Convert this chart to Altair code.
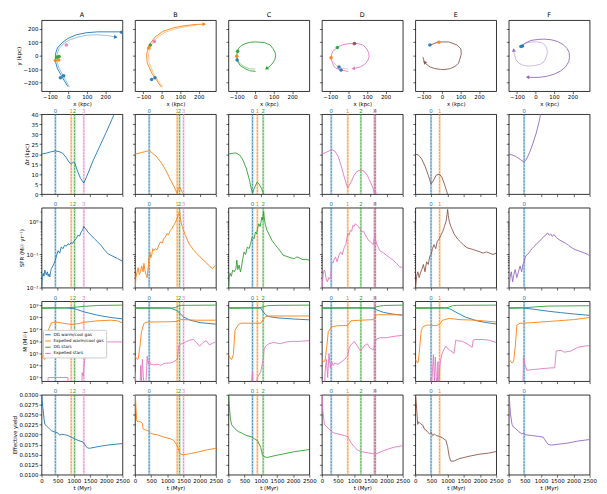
import math
import altair as alt
import pandas as pd

FONT = "DejaVu Sans"
GAL = ["A", "B", "C", "D", "E", "F"]
GCOL = {"A": "#1f77b4", "B": "#ff7f0e", "C": "#2ca02c", "D": "#e377c2", "E": "#8c564b", "F": "#9467bd"}
EVCOL = ["#1f77b4", "#ff7f0e", "#2ca02c", "#e377c2", "#8c564b"]

# event times (Myr) per galaxy
EVENTS = {"A": [428, 918, 1020, 1306], "B": [439, 1306, 1378, 1500], "C": [744, 895, 1075],
          "D": [290, 800, 1205, 1620, 1650], "E": [488, 752], "F": [476]}

# ---------------- row 1: trajectories (kpc) ----------------
TRAJ = {
    "A": [([-2, -20, -37, -59, -70, -70, -59, -34, -2, 43, 96, 159, 230, 293],
           [-230, -191, -149, -96, -43, 11, 57, 96, 128, 155, 170, 177, 177, 177]),
          ([7, -11, -29, -50, -61, -61, -50, -25, 7, 52, 105, 159, 212, 257],
           [-234, -191, -145, -96, -43, 11, 53, 91, 117, 138, 153, 155, 149, 138])],
    "B": [([-2, -29, -55, -79, -82, -68, -37, 7, 61, 123, 186, 230],
           [-234, -181, -128, -53, 11, 79, 138, 181, 206, 223, 232, 234]),
          ([5, -20, -45, -68, -72, -59, -30, 12, 64, 123, 186],
           [-236, -185, -130, -55, 10, 73, 128, 170, 195, 214, 226])],
    "C": [([2, -30, -55, -80, -91, -100, -98, -91, -75, -55, -25, 0, 30, 52, 80, 96, 107, 111, 106, 96, 80, 61],
           [-117, -112, -96, -75, -53, -10, 20, 53, 75, 89, 100, 102, 100, 96, 80, 53, 25, 0, -30, -53, -78, -96]),
          ([0, -30, -55, -78, -92], [-100, -97, -85, -65, -40])],
    "D": [([-2, -46, -70, -82, -96, -92, -86, -55, -30, -2, 30, 52, 80, 96, 108, 111, 104, 93, 78, 61, 25],
           [-117, -106, -92, -74, -21, 10, 32, 68, 82, 89, 91, 89, 78, 53, 25, -6, -35, -57, -72, -85, -96]),
          ([-2, -40, -68, -85], [-100, -92, -72, -40])],
    "E": [([-66, -18, 36, 80, 102, 104, 95, 89, 70, 45, 10, -9, -40, -62, -80, -95, -104],
           [79, 102, 102, 80, 50, 11, -30, -57, -80, -96, -104, -102, -96, -85, -70, -49, -11])],
    "F": [([-79, -60, -25, 10, 46, 85, 118, 150, 171, 182, 184, 180, 162, 135, 100, 65, 29, -10, -43],
           [68, 90, 113, 120, 123, 118, 106, 82, 53, 25, -11, -45, -85, -115, -138, -152, -160, -162, -160]),
          ([-79, -60, -43, -15, 11, 35, 55, 62, 64, 58, 46, 25, -7, -40, -70, -90, -105, -114, -118],
           [68, 85, 96, 102, 102, 95, 74, 50, 21, -12, -43, -65, -74, -78, -70, -55, -32, 11, 43])],
}
ARROWS = {"A": [(1, -1)], "B": [(0, -1)], "C": [(0, -1)], "D": [(0, -1)], "E": [(0, 15)],
          "F": [(0, -1), (1, -1)]}
# markers: (x, y, event index)
DOTS = {
    "A": [(-25, -149, 0), (-43, -164, 0), (289, 174, 0), (-70, -36, 1), (-52, -32, 1),
          (-50, -6, 2), (-61, -11, 2), (-11, 79, 3)],
    "B": [(-55, -177, 0), (-37, -164, 0), (-71, 57, 1), (-62, 79, 2), (-41, 106, 3)],
    "C": [(-98, -32, 0), (-100, -4, 1), (-95, 32, 2)],
    "D": [(-52, -85, 0), (-41, -106, 0), (-95, -15, 1), (-61, 60, 2), (30, 89, 3), (32, 90, 4)],
    "E": [(-66, 79, 0), (-18, 100, 1)],
    "F": [(-79, 68, 0), (-70, 72, 0)],
}

# ---------------- row 2: separation (kpc) ----------------
DR = {
    "A": ([0, 150, 300, 428, 550, 650, 750, 850, 918, 980, 1030, 1100, 1200, 1306, 1400, 1600, 1800, 2000, 2245],
          [20, 20.5, 21.2, 21.6, 21.2, 20.5, 18.5, 16, 15, 16, 15.5, 12, 8, 5.5, 9, 17, 24, 31, 40]),
    "B": ([0, 200, 439, 500, 650, 800, 950, 1100, 1200, 1270, 1306, 1340, 1378, 1420, 1460, 1500],
          [20, 20.8, 21.7, 21, 19, 16, 12, 7, 4, 1.5, 0.3, 3, 3.6, 2.5, 0.8, 0.3]),
    "C": ([0, 120, 230, 350, 450, 550, 650, 716, 745, 800, 887, 950, 1030, 1090],
          [20, 20.4, 20.6, 19.5, 17, 13, 7, 2, 0.5, 3, 6, 5, 2.5, 0]),
    "D": ([0, 150, 304, 400, 500, 600, 700, 800, 900, 1000, 1100, 1205, 1300, 1400, 1500, 1580, 1620, 1650, 1680],
          [20, 21, 22.3, 21.5, 19, 14, 8, 3, 6, 9.5, 11.5, 12, 11.5, 9.5, 6, 3, 0.5, 1.5, 0.3]),
    "E": ([0, 100, 200, 300, 400, 488, 550, 650, 742, 820, 900, 960, 996],
          [20, 19.5, 17.5, 14, 9.5, 5, 6.5, 9.5, 10, 8.5, 5, 2, 0]),
    "F": ([0, 100, 200, 304, 400, 476, 550, 650, 750, 850, 950, 982],
          [20, 19.6, 19, 17.9, 16.8, 16.2, 17.5, 21, 25.5, 30.5, 37, 40]),
}

# ---------------- row 3: SFR (Msun/yr) ----------------
SFR = {
    "A": ([0, 20, 51, 75, 102, 125, 150, 180, 204, 230, 255, 280, 306, 350, 408, 460, 510, 560, 612, 660,
           714, 765, 816, 870, 918, 970, 1020, 1070, 1122, 1175, 1224, 1270, 1306, 1340, 1380, 1429, 1530, 1633,
           1735, 1837, 1940, 2041, 2143, 2245, 2350, 2500],
          [0.008, 0.02, 0.027, 0.022, 0.034, 0.028, 0.024, 0.03, 0.022, 0.026, 0.021, 0.03, 0.038, 0.045, 0.06,
           0.09, 0.13, 0.11, 0.17, 0.15, 0.19, 0.18, 0.21, 0.2, 0.23, 0.22, 0.27, 0.3, 0.38, 0.36, 0.48, 0.55,
           0.72, 0.62, 0.58, 0.48, 0.38, 0.3, 0.24, 0.19, 0.14, 0.107, 0.095, 0.085, 0.075, 0.063]),
    "B": ([0, 30, 71, 100, 130, 170, 210, 250, 276, 310, 345, 378, 410, 429, 460, 490, 520, 550, 582, 630,
           684, 735, 786, 840, 888, 940, 990, 1040, 1092, 1140, 1194, 1240, 1296, 1330, 1360, 1378, 1400, 1430,
           1460, 1500, 1550, 1602, 1653, 1704, 1806, 1908, 2010, 2112, 2214, 2316, 2400, 2500],
          [0.008, 0.02, 0.032, 0.04, 0.025, 0.03, 0.045, 0.03, 0.054, 0.032, 0.024, 0.02, 0.045, 0.076, 0.12,
           0.08, 0.1, 0.15, 0.13, 0.15, 0.14, 0.19, 0.24, 0.22, 0.3, 0.34, 0.43, 0.4, 0.54, 0.6, 0.76, 0.9, 1.2,
           1.5, 1.8, 2.1, 1.3, 0.9, 0.7, 0.54, 0.4, 0.3, 0.23, 0.19, 0.14, 0.107, 0.085, 0.068, 0.055, 0.043,
           0.038, 0.048]),
    "C": ([0, 25, 50, 90, 131, 180, 232, 260, 290, 333, 370, 400, 440, 484, 530, 585, 640, 690, 736, 790,
           837, 870, 900, 938, 980, 1010, 1038, 1060, 1089, 1110, 1140, 1190, 1260, 1341, 1440, 1542, 1620, 1694,
           1770, 1845, 1950, 2046, 2120, 2198, 2300, 2400, 2500],
          [0.008, 0.02, 0.027, 0.022, 0.034, 0.03, 0.038, 0.067, 0.035, 0.048, 0.03, 0.04, 0.07, 0.12, 0.1,
           0.17, 0.15, 0.22, 0.34, 0.3, 0.48, 0.42, 0.6, 0.85, 0.7, 1.0, 1.35, 1.1, 2.0, 1.2, 0.8, 0.54, 0.4,
           0.27, 0.2, 0.15, 0.12, 0.095, 0.09, 0.085, 0.078, 0.076, 0.085, 0.079, 0.07, 0.072, 0.067]),
    "D": ([0, 40, 71, 100, 140, 172, 210, 240, 273, 304, 340, 380, 425, 470, 520, 577, 630, 690, 740, 800,
           840, 880, 920, 960, 1000, 1032, 1080, 1130, 1180, 1235, 1290, 1340, 1390, 1437, 1490, 1540, 1589, 1620,
           1640, 1660, 1700, 1750, 1791, 1890, 1994, 2100, 2196, 2300, 2398, 2500],
          [0.008, 0.025, 0.034, 0.03, 0.017, 0.015, 0.02, 0.018, 0.021, 0.06, 0.055, 0.07, 0.085, 0.06, 0.09,
           0.12, 0.1, 0.16, 0.2, 0.43, 0.38, 0.54, 0.5, 0.76, 0.7, 0.85, 0.78, 0.7, 0.6, 0.48, 0.5, 0.4, 0.33,
           0.27, 0.25, 0.22, 0.2, 0.3, 0.43, 0.28, 0.2, 0.16, 0.13, 0.115, 0.095, 0.08, 0.068, 0.055, 0.043, 0.04]),
    "E": ([0, 40, 80, 120, 160, 200, 250, 300, 350, 400, 450, 488, 530, 580, 630, 680, 742, 800, 850, 900,
           950, 980, 1000, 1020, 1050, 1100, 1200, 1300, 1400, 1500, 1600, 1700, 1800, 1900, 2000, 2100, 2200,
           2300, 2400, 2500],
          [0.008, 0.022, 0.03, 0.02, 0.028, 0.035, 0.05, 0.03, 0.06, 0.05, 0.09, 0.1, 0.15, 0.2, 0.15, 0.25,
           0.3, 0.4, 0.5, 0.7, 1.0, 1.6, 2.3, 1.5, 1.0, 0.7, 0.42, 0.3, 0.24, 0.19, 0.16, 0.15, 0.14, 0.13, 0.12,
           0.11, 0.12, 0.11, 0.1, 0.11]),
    "F": ([0, 40, 80, 120, 160, 200, 250, 300, 350, 400, 440, 476, 520, 580, 650, 720, 800, 880, 950, 1020,
           1080, 1140, 1200, 1250, 1300, 1350, 1400, 1480, 1560, 1650, 1750, 1850, 1950, 2050, 2150, 2250, 2350,
           2450, 2500],
          [0.008, 0.02, 0.03, 0.015, 0.025, 0.035, 0.02, 0.03, 0.045, 0.03, 0.05, 0.06, 0.09, 0.1, 0.12, 0.15,
           0.18, 0.22, 0.25, 0.3, 0.35, 0.38, 0.45, 0.38, 0.42, 0.35, 0.4, 0.32, 0.28, 0.25, 0.22, 0.19, 0.16,
           0.14, 0.13, 0.12, 0.11, 0.1, 0.09]),
}

# ---------------- row 4: masses, log10(M/Msun) ----------------
SERIES = ["DG warm/cool gas", "Expelled warm/cool gas", "DG stars", "Expelled stars"]
SERIES_COL = ["#1f77b4", "#ff7f0e", "#2ca02c", "#e377c2"]
MASS = {
    "A": {
        "DG warm/cool gas": ([0, 400, 714, 1020, 1327, 1735, 2143, 2500], [8.78, 8.78, 8.77, 8.70, 8.43, 8.16, 7.97, 7.86]),
        "Expelled warm/cool gas": ([0, 50, 102, 153, 204, 306, 408, 510, 714, 918, 1100, 1327, 1735, 2143, 2350, 2500],
                                   [4.9, 4.6, 4.5, 4.9, 6.9, 7.53, 7.6, 7.57, 7.48, 7.4, 7.45, 7.58, 7.7, 7.75, 7.7, 7.53]),
        "DG stars": ([0, 700, 1000, 1327, 1735, 2500], [8.73, 8.76, 8.82, 8.9, 8.97, 9.0]),
        "Expelled stars": ([0, 190, 204, 500, 816, 830, 1240, 1255, 1290, 1306, 1340, 1380, 1440, 1480, 1510, 1540, 1700, 2000, 2500],
                           [2.0, 2.0, 3.0, 3.0, 3.0, 2.0, 2.0, 3.4, 3.1, 3.7, 4.6, 4.65, 4.7, 4.8, 5.5, 5.85, 5.93, 5.95, 5.95]),
    },
    "B": {
        "DG warm/cool gas": ([0, 600, 1092, 1296, 1500, 1704, 2010, 2500], [8.78, 8.78, 8.76, 8.55, 8.02, 7.75, 7.55, 7.42]),
        "Expelled warm/cool gas": ([0, 40, 71, 100, 153, 200, 276, 378, 582, 990, 1296, 1400, 1500, 1900, 2500],
                                   [4.76, 4.6, 4.5, 4.55, 5.6, 6.8, 7.48, 7.6, 7.6, 7.62, 7.65, 7.8, 7.8, 7.75, 7.75]),
        "DG stars": ([0, 1100, 1250, 1350, 1450, 2500], [8.73, 8.75, 8.8, 8.93, 8.98, 9.0]),
        "Expelled stars": ([0, 50, 100, 150, 180, 200, 230, 260, 300, 330, 377, 410, 440, 480, 582, 700, 800, 888,
                            990, 1092, 1200, 1270, 1310, 1347, 1400, 1500, 1600, 1700, 1800, 1900, 2000, 2100, 2200,
                            2300, 2400, 2500],
                           [3.5, 2.0, 2.0, 2.0, 4.0, 2.5, 4.5, 3.0, 2.0, 2.0, 4.76, 4.1, 4.4, 4.1, 4.05, 4.1, 4.0, 4.15,
                            4.2, 4.2, 4.3, 4.45, 4.5, 5.6, 5.75, 5.85, 6.0, 6.1, 6.15, 5.9, 5.6, 5.9, 6.05, 5.7, 5.85, 5.95]),
    },
    "C": {
        "DG warm/cool gas": ([0, 800, 1000, 1075, 1150, 1250, 1500, 2000, 2500], [8.78, 8.78, 8.75, 8.45, 8.2, 8.05, 7.95, 7.85, 7.78]),
        "Expelled warm/cool gas": ([0, 50, 102, 153, 204, 306, 408, 700, 1000, 1075, 1150, 1300, 2500],
                                   [4.9, 4.6, 4.5, 4.9, 6.9, 7.4, 7.5, 7.5, 7.5, 7.8, 8.05, 8.1, 8.1]),
        "DG stars": ([0, 900, 1075, 1200, 1500, 2500], [8.73, 8.76, 8.85, 8.95, 8.98, 9.0]),
        "Expelled stars": ([0, 700, 744, 760, 800, 900, 1000, 1075, 1100, 1150, 1250, 1400, 1600, 1800, 2000, 2200, 2500],
                           [2, 2, 3.5, 2, 2, 3, 3.5, 4.5, 5.3, 5.6, 5.8, 5.9, 5.8, 5.95, 6.0, 6.0, 6.05]),
    },
    "D": {
        "DG warm/cool gas": ([0, 1200, 1600, 1700, 1900, 2200, 2500], [8.78, 8.78, 8.75, 8.6, 8.4, 8.25, 8.15]),
        "Expelled warm/cool gas": ([0, 50, 100, 150, 200, 300, 500, 800, 850, 900, 1200, 1600, 1650, 1700, 2000, 2500],
                                   [4.5, 4.3, 4.4, 5.5, 6.8, 7.2, 7.3, 7.3, 7.5, 7.7, 7.75, 7.8, 8.1, 8.2, 8.2, 8.2]),
        "DG stars": ([0, 1600, 1700, 1900, 2500], [8.73, 8.76, 8.88, 8.97, 9.0]),
        "Expelled stars": ([0, 80, 100, 140, 180, 220, 260, 300, 350, 400, 500, 600, 700, 800, 850, 900, 1000, 1100,
                            1200, 1300, 1400, 1500, 1600, 1650, 1700, 1800, 2000, 2200, 2500],
                           [2, 2, 3.5, 4.5, 3, 5, 3.8, 4.3, 4, 4.2, 4.1, 4.3, 4.5, 4.8, 5.5, 5.7, 6.0, 5.6, 5.2, 5.6,
                            5.8, 5.4, 5.3, 6.0, 6.2, 6.3, 6.3, 6.4, 6.5]),
    },
    "E": {
        "DG warm/cool gas": ([0, 945, 1100, 1300, 1555, 1900, 2200, 2500], [8.78, 8.78, 8.65, 8.35, 8.0, 7.7, 7.55, 7.43]),
        "Expelled warm/cool gas": ([0, 40, 80, 120, 183, 240, 300, 386, 640, 742, 843, 1047, 1352, 1860, 2500],
                                   [4.5, 4.3, 4.2, 5.0, 6.9, 7.2, 7.3, 7.35, 7.3, 7.4, 7.75, 7.9, 7.8, 7.75, 7.6]),
        "DG stars": ([0, 945, 1050, 1150, 1300, 2500], [8.73, 8.75, 8.85, 8.95, 8.98, 9.0]),
        "Expelled stars": ([0, 470, 488, 500, 530, 560, 590, 620, 650, 680, 700, 720, 742, 760, 790, 830, 880, 945,
                            1000, 1100, 1199, 1250, 1300, 1453, 1600, 1758, 1790, 1850, 2063, 2266, 2500],
                           [2, 2, 3.0, 2.0, 3.5, 4.9, 2.5, 4.7, 3.0, 2.2, 4.3, 2.0, 3.2, 4.0, 4.5, 5.0, 5.3, 5.6,
                            5.4, 5.2, 5.0, 6.1, 6.05, 6.0, 5.8, 5.5, 6.1, 6.15, 6.15, 6.1, 5.9]),
    },
    "F": {
        "DG warm/cool gas": ([0, 405, 800, 1200, 1600, 2000, 2500], [8.78, 8.78, 8.65, 8.5, 8.38, 8.27, 8.15]),
        "Expelled warm/cool gas": ([0, 40, 100, 150, 200, 253, 350, 450, 709, 1000, 1518, 2000, 2500],
                                   [4.6, 4.4, 4.2, 4.3, 5.5, 7.35, 7.5, 7.5, 7.55, 7.6, 7.7, 7.8, 7.97]),
        "DG stars": ([0, 405, 800, 1200, 2500], [8.73, 8.76, 8.85, 8.92, 8.95]),
        "Expelled stars": ([0, 440, 455, 470, 500, 557, 709, 911, 1100, 1316, 1420, 1468, 1620, 1720, 1924, 2126, 2330, 2500],
                           [2, 2, 4.75, 4.6, 4.1, 3.6, 3.65, 3.7, 3.75, 3.8, 3.8, 5.2, 5.25, 5.1, 5.2, 5.5, 5.6, 5.65]),
    },
}

# ---------------- row 5: effective yield ----------------
YIELD = {
    "A": ([0, 20, 35, 51, 75, 102, 153, 204, 255, 306, 408, 510, 560, 612, 714, 816, 918, 1020, 1122, 1276,
           1330, 1378, 1430, 1480, 1735, 2041, 2500],
          [0.031, 0.0285, 0.027, 0.0262, 0.024, 0.0226, 0.0222, 0.0218, 0.0214, 0.021, 0.0207, 0.0204, 0.0199,
           0.0201, 0.0200, 0.0198, 0.0194, 0.019, 0.0186, 0.0182, 0.0176, 0.017, 0.0167, 0.0166, 0.017, 0.0174, 0.0178]),
    "B": ([0, 15, 30, 50, 71, 122, 173, 224, 250, 276, 320, 377, 480, 582, 684, 888, 1092, 1194, 1296, 1340,
           1378, 1449, 1602, 1908, 2214, 2500],
          [0.031, 0.029, 0.027, 0.0238, 0.0233, 0.0234, 0.0232, 0.0229, 0.0215, 0.0213, 0.0212, 0.0211, 0.0204,
           0.0201, 0.02, 0.0194, 0.019, 0.0186, 0.0174, 0.0165, 0.0154, 0.015, 0.0151, 0.0156, 0.0162, 0.0166]),
    "C": ([0, 30, 60, 100, 200, 300, 400, 500, 600, 700, 800, 900, 1000, 1050, 1100, 1200, 1400, 1700, 2000, 2500],
          [0.031, 0.027, 0.024, 0.0225, 0.0215, 0.0208, 0.0205, 0.02, 0.0197, 0.0195, 0.019, 0.0185, 0.0168,
           0.015, 0.0145, 0.0143, 0.0147, 0.0152, 0.0157, 0.0163]),
    "D": ([0, 30, 80, 150, 250, 350, 500, 700, 800, 900, 1000, 1100, 1200, 1400, 1600, 1700, 1900, 2200, 2500],
          [0.031, 0.026, 0.0225, 0.022, 0.0212, 0.0205, 0.0202, 0.0198, 0.0195, 0.018, 0.017, 0.0162, 0.0158,
           0.0155, 0.0152, 0.0153, 0.016, 0.0168, 0.0173]),
    "E": ([0, 30, 51, 75, 100, 132, 180, 234, 280, 330, 386, 440, 488, 540, 590, 640, 742, 843, 945, 1000,
           1047, 1098, 1199, 1352, 1657, 1961, 2266, 2500],
          [0.031, 0.028, 0.0254, 0.0226, 0.0232, 0.023, 0.0226, 0.0224, 0.0214, 0.0212, 0.0206, 0.0202, 0.0206,
           0.0198, 0.0202, 0.0198, 0.0196, 0.0192, 0.0186, 0.017, 0.0146, 0.0134, 0.0134, 0.014, 0.0146, 0.0151,
           0.0154, 0.0158]),
    "F": ([0, 30, 51, 101, 150, 202, 304, 405, 455, 506, 709, 911, 1063, 1110, 1215, 1316, 1518, 1822, 2126, 2500],
          [0.031, 0.028, 0.0254, 0.0226, 0.0219, 0.0216, 0.0208, 0.0202, 0.0204, 0.02, 0.0198, 0.0196, 0.0194,
           0.0188, 0.0176, 0.0174, 0.0176, 0.0179, 0.0184, 0.0188]),
}

# ---------------- layout / styling ----------------
W = 82
H1 = 72
H = 81
HSP = 12.7
LW = 0.9
XDOM = [-145, 293]
YDOM = [-264, 264]
SUP = "['⁰','¹','²','³','⁴','⁵','⁶','⁷','⁸','⁹']"
IS_DECADE = "abs(log(datum.value)/LN10 - round(log(datum.value)/LN10)) < 0.001"
SFR_TICKS = [k * 10.0 ** e for e in (-2, -1, 0) for k in range(1, 10) if k * 10.0 ** e <= 2.6]


def time_x(show):
    return alt.X("t:Q", scale=alt.Scale(domain=[0, 2500], nice=False, zero=False),
                 axis=alt.Axis(values=[0, 500, 1000, 1500, 2000, 2500], labels=show, format="d",
                               title="t (Myr)" if show else None, labelFlush=False,
                               labelOverlap=False, labelBound=False))


def ev_layers(g, xenc):
    ts = EVENTS[g]
    df = pd.DataFrame({"t": ts, "label": [str(i) for i in range(len(ts))], "c": EVCOL[:len(ts)]})
    base = alt.Chart(df)
    band = base.mark_rule(strokeWidth=2.2, opacity=0.3).encode(
        x=xenc, stroke=alt.Stroke("c:N", scale=None))
    dash = base.mark_rule(strokeWidth=0.8, strokeDash=[2, 1.2], opacity=0.9).encode(
        x=xenc, stroke=alt.Stroke("c:N", scale=None))
    lab = base.mark_text(fontSize=5.5, baseline="bottom", dy=-0.5, font=FONT).encode(
        x=xenc, y=alt.value(0), text="label:N", fill=alt.Fill("c:N", scale=None))
    return [band, dash, lab]


def traj_panel(i, g):
    rows = []
    for s, (xs, ys) in enumerate(TRAJ[g]):
        assert len(xs) == len(ys)
        for k, (x, y) in enumerate(zip(xs, ys)):
            rows.append({"x": x, "y": y, "strand": s, "i": k, "alpha": 1.0 if s == 0 else 0.5})
    tdf = pd.DataFrame(rows)
    kx = W / (XDOM[1] - XDOM[0])
    ky = H1 / (YDOM[1] - YDOM[0])
    arr = []
    for s, idx in ARROWS[g]:
        xs, ys = TRAJ[g][s]
        k = idx if idx >= 0 else len(xs) + idx
        dx = (xs[k] - xs[k - 1]) * kx
        dy = -(ys[k] - ys[k - 1]) * ky
        ang = math.degrees(math.atan2(dy, dx)) % 360
        arr.append({"x": xs[k], "y": ys[k], "ang": ang})
    adf = pd.DataFrame(arr)
    ddf = pd.DataFrame([{"x": x, "y": y, "c": EVCOL[e]} for x, y, e in DOTS[g]])

    xenc = alt.X("x:Q", scale=alt.Scale(domain=XDOM, nice=False, zero=False),
                 axis=alt.Axis(values=[-100, 0, 100, 200], title="x (kpc)", labelFlush=False,
                               labelOverlap=False))
    yenc = alt.Y("y:Q", scale=alt.Scale(domain=YDOM, nice=False, zero=False),
                 axis=alt.Axis(values=[-200, -100, 0, 100, 200], labels=(i == 0),
                               title="y (kpc)" if i == 0 else None, labelOverlap=False))
    col = GCOL[g]
    lines = alt.Chart(tdf).mark_line(strokeWidth=LW, clip=True, color=col).encode(
        x=xenc, y=yenc, detail="strand:N", order="i:Q", opacity=alt.Opacity("alpha:Q", scale=None))
    arrows = alt.Chart(adf).mark_point(shape="triangle-right", filled=True, size=16, color=col,
                                       opacity=1, clip=True).encode(
        x=xenc, y=yenc, angle=alt.Angle("ang:Q", scale=None))
    dots = alt.Chart(ddf).mark_circle(size=13, opacity=0.9, clip=True).encode(
        x=xenc, y=yenc, fill=alt.Fill("c:N", scale=None))
    return alt.layer(lines, arrows, dots).properties(
        width=W, height=H1,
        title=alt.TitleParams(g, fontSize=6.5, offset=2, font=FONT, fontWeight="normal", color="black"))


def simple_panel(i, g, t, v, ydom, yaxis_kw, ytitle, logscale=False, xlabels=False):
    assert len(t) == len(v), g
    df = pd.DataFrame({"t": t, "v": v})
    xenc = time_x(xlabels)
    sc = alt.Scale(domain=ydom, nice=False, zero=False, type="log") if logscale else \
        alt.Scale(domain=ydom, nice=False, zero=False)
    yenc = alt.Y("v:Q", scale=sc, axis=alt.Axis(labels=(i == 0), title=ytitle if i == 0 else None,
                                                  labelOverlap=False, **yaxis_kw))
    line = alt.Chart(df).mark_line(strokeWidth=LW, clip=True, color=GCOL[g]).encode(x=xenc, y=yenc)
    return alt.layer(*ev_layers(g, xenc), line).properties(width=W, height=H)


def mass_panel(i, g):
    rows = []
    for s in SERIES:
        t, lv = MASS[g][s]
        assert len(t) == len(lv), (g, s)
        for k, (tt, vv) in enumerate(zip(t, lv)):
            rows.append({"t": tt, "M": 10 ** vv, "series": s, "k": k})
    df = pd.DataFrame(rows)
    xenc = time_x(False)
    yenc = alt.Y("M:Q", scale=alt.Scale(type="log", domain=[500, 2.1e9], nice=False),
                 axis=alt.Axis(values=[1e3, 1e4, 1e5, 1e6, 1e7, 1e8, 1e9], labels=(i == 0),
                               title="M (M☉)" if i == 0 else None, labelOverlap=False,
                               labelExpr="'10' + " + SUP + "[round(log(datum.value)/LN10)]"))
    if i == 0:
        leg = alt.Legend(orient="none", legendX=1.5, legendY=29, title=None, direction="vertical",
                         labelFontSize=4.3, labelFont=FONT, symbolType="stroke", symbolSize=30,
                         symbolStrokeWidth=1.0, rowPadding=0.3, padding=1.5, fillColor="white",
                         strokeColor="#cccccc", cornerRadius=1, labelOffset=2, labelColor="black",
                         labelLimit=60)
    else:
        leg = None
    line = alt.Chart(df).mark_line(strokeWidth=LW, clip=True).encode(
        x=xenc, y=yenc, order="k:Q",
        color=alt.Color("series:N", scale=alt.Scale(domain=SERIES, range=SERIES_COL), legend=leg))
    return alt.layer(*ev_layers(g, xenc), line).properties(width=W, height=H)


row1 = alt.hconcat(*[traj_panel(i, g) for i, g in enumerate(GAL)], spacing=HSP, bounds="flush")
row2 = alt.hconcat(*[simple_panel(i, g, DR[g][0], DR[g][1], [0, 40],
                                  {"values": list(range(0, 41, 5))}, "Δr (kpc)")
                     for i, g in enumerate(GAL)], spacing=HSP, bounds="flush")
row3 = alt.hconcat(*[simple_panel(i, g, SFR[g][0], SFR[g][1], [0.01, 2.6],
                                  {"values": SFR_TICKS,
                                   "labelExpr": "!(" + IS_DECADE + ") ? '' : datum.value < 0.05 ? '10⁻²' : datum.value < 0.5 ? '10⁻¹' : '10⁰'",
                                   "tickSize": {"condition": {"test": IS_DECADE, "value": 2.5}, "value": 1.4}},
                                  "SFR (M☉ yr⁻¹)", logscale=True)
                     for i, g in enumerate(GAL)], spacing=HSP, bounds="flush")
row4 = alt.hconcat(*[mass_panel(i, g) for i, g in enumerate(GAL)], spacing=HSP,
                   bounds="flush").resolve_scale(color="independent")
row5 = alt.hconcat(*[simple_panel(i, g, YIELD[g][0], YIELD[g][1], [0.01, 0.03],
                                  {"values": [0.01 + 0.0025 * k for k in range(9)], "format": ".4f"},
                                  "Effective yield", xlabels=True)
                     for i, g in enumerate(GAL)], spacing=HSP, bounds="flush")

lower = alt.vconcat(row2, row3, row4, row5, spacing=3.8)
chart = alt.vconcat(row1, lower, spacing=0.3).properties(
    padding={"left": 4, "top": 0, "right": 2, "bottom": 0})

chart = chart.configure_view(stroke="black", strokeWidth=0.8).configure_axis(
    labelFont=FONT, titleFont=FONT, labelFontSize=5.5, titleFontSize=5.5, labelColor="black",
    titleColor="black", tickColor="black", tickSize=2.5, tickWidth=0.6, grid=False, domain=False,
    labelPadding=1.2, titlePadding=1.5, titleFontWeight="normal")

chart.save("out.html", embed_options={"renderer": "svg", "actions": False})
